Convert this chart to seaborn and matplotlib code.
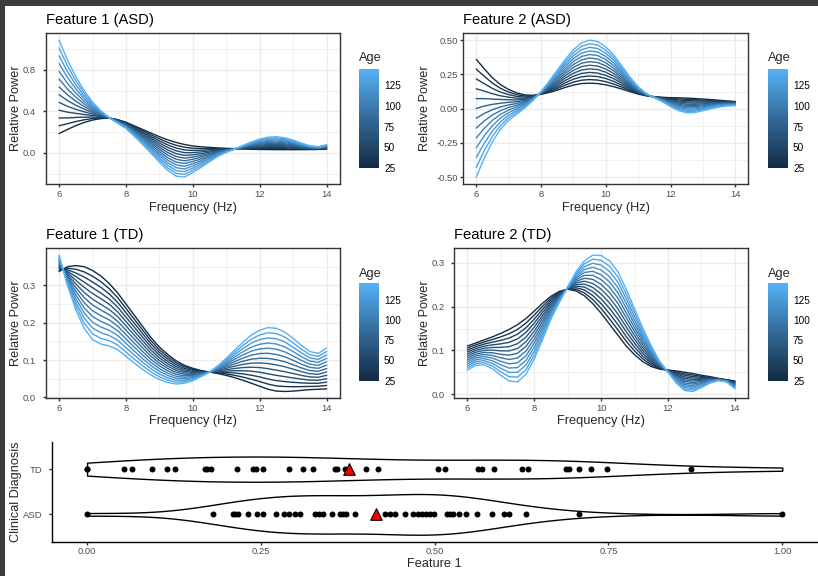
import numpy as np
import pandas as pd
import matplotlib
matplotlib.use("Agg")
import matplotlib.pyplot as plt
import seaborn as sns
from matplotlib.colors import LinearSegmentedColormap, Normalize
from matplotlib.cm import ScalarMappable
from matplotlib.ticker import MultipleLocator, FuncFormatter
from matplotlib.patches import Rectangle

# ---------------- data ----------------
frequency_hz = [6.0, 6.25, 6.5, 6.75, 7.0, 7.25, 7.5, 7.75, 8.0, 8.25, 8.5, 8.75,
                9.0, 9.25, 9.5, 9.75, 10.0, 10.25, 10.5, 10.75, 11.0, 11.25, 11.5,
                11.75, 12.0, 12.25, 12.5, 12.75, 13.0, 13.25, 13.5, 13.75, 14.0]
age_months = [25, 35, 45, 55, 65, 75, 85, 95, 105, 115, 125, 135, 145]

# model curves at the youngest and oldest age (relative power is linear in age)
f1_asd_youngest = [0.186, 0.225, 0.262, 0.293, 0.316, 0.330, 0.335, 0.320, 0.295, 0.260, 0.225,
                   0.190, 0.155, 0.125, 0.100, 0.080, 0.066, 0.058, 0.052, 0.047, 0.043, 0.040,
                   0.037, 0.034, 0.032, 0.031, 0.030, 0.030, 0.030, 0.030, 0.031, 0.032, 0.034]
f1_asd_oldest = [1.087, 0.895, 0.735, 0.600, 0.490, 0.405, 0.340, 0.285, 0.235, 0.160, 0.080,
                 -0.005, -0.090, -0.170, -0.225, -0.235, -0.190, -0.140, -0.085, -0.035, 0.005,
                 0.035, 0.070, 0.105, 0.132, 0.150, 0.155, 0.145, 0.122, 0.093, 0.068, 0.058, 0.078]

f2_asd_youngest = [0.360, 0.290, 0.225, 0.175, 0.140, 0.115, 0.100, 0.097, 0.105, 0.118, 0.135,
                   0.155, 0.172, 0.183, 0.186, 0.183, 0.174, 0.160, 0.143, 0.124, 0.106, 0.094,
                   0.087, 0.083, 0.080, 0.079, 0.077, 0.074, 0.070, 0.066, 0.061, 0.056, 0.052]
f2_asd_oldest = [-0.500, -0.360, -0.240, -0.150, -0.085, -0.040, 0.005, 0.060, 0.125, 0.200,
                 0.280, 0.360, 0.430, 0.480, 0.500, 0.490, 0.450, 0.390, 0.310, 0.230, 0.160,
                 0.110, 0.080, 0.050, 0.015, -0.015, -0.030, -0.028, -0.015, 0.000, 0.012, 0.020, 0.022]

f1_td_youngest = [0.337, 0.350, 0.353, 0.350, 0.340, 0.325, 0.305, 0.280, 0.250, 0.220, 0.190,
                  0.160, 0.135, 0.115, 0.098, 0.086, 0.078, 0.072, 0.068, 0.064, 0.059, 0.053,
                  0.046, 0.038, 0.030, 0.022, 0.017, 0.016, 0.017, 0.019, 0.021, 0.022, 0.023]
f1_td_oldest = [0.381, 0.300, 0.235, 0.185, 0.155, 0.143, 0.138, 0.128, 0.110, 0.092, 0.075,
                0.060, 0.048, 0.040, 0.036, 0.038, 0.045, 0.056, 0.068, 0.085, 0.105, 0.127,
                0.148, 0.167, 0.180, 0.187, 0.185, 0.175, 0.158, 0.139, 0.123, 0.118, 0.132]

f2_td_youngest = [0.110, 0.117, 0.124, 0.131, 0.139, 0.148, 0.159, 0.173, 0.190, 0.208, 0.224,
                  0.235, 0.240, 0.236, 0.225, 0.207, 0.185, 0.160, 0.135, 0.110, 0.090, 0.074,
                  0.063, 0.057, 0.055, 0.053, 0.050, 0.047, 0.043, 0.040, 0.036, 0.033, 0.030]
f2_td_oldest = [0.055, 0.066, 0.067, 0.058, 0.043, 0.030, 0.028, 0.045, 0.080, 0.125, 0.172,
                0.210, 0.245, 0.280, 0.305, 0.318, 0.317, 0.305, 0.280, 0.240, 0.195, 0.150,
                0.110, 0.075, 0.050, 0.025, 0.008, 0.006, 0.015, 0.025, 0.031, 0.028, 0.012]

# Feature 1 per subject
td_feature1 = [0.0, 0.0, 0.053, 0.065, 0.094, 0.115, 0.126, 0.169, 0.173, 0.178, 0.216, 0.238,
               0.243, 0.253, 0.291, 0.311, 0.325, 0.356, 0.359, 0.371, 0.401, 0.418, 0.505,
               0.515, 0.563, 0.568, 0.586, 0.626, 0.635, 0.689, 0.693, 0.707, 0.725, 0.748, 0.869]
asd_feature1 = [0.0, 0.181, 0.210, 0.213, 0.217, 0.231, 0.245, 0.253, 0.272, 0.284, 0.291,
                0.299, 0.306, 0.328, 0.334, 0.340, 0.352, 0.364, 0.368, 0.373, 0.385, 0.429,
                0.436, 0.443, 0.457, 0.469, 0.476, 0.482, 0.488, 0.494, 0.499, 0.518, 0.522,
                0.527, 0.535, 0.545, 0.561, 0.583, 0.600, 0.607, 0.632, 0.708, 1.0]
td_violin_extent = [1.0]   # TD violin outline reaches 1.00
diagnosis_order = ["TD", "ASD"]
colorbar_ticks = [25, 50, 75, 100, 125]

# ---------------- style ----------------
sns.set_theme(style="white")
plt.rcParams["font.family"] = ["Liberation Sans", "DejaVu Sans"]
plt.rcParams["axes.unicode_minus"] = False

W, H = 818, 576
fig = plt.figure(figsize=(W / 100, H / 100), dpi=100)
fig.patch.set_facecolor("#3c3c3c")
fig.add_artist(Rectangle((5 / W, 0), 1, 1 - 6 / H, transform=fig.transFigure,
                         facecolor="white", edgecolor="none", zorder=-10))


def rect(l, t, r, b):
    return [l / W, 1 - b / H, (r - l) / W, (b - t) / H]


cmap = LinearSegmentedColormap.from_list("gg", ["#132B43", "#336A98", "#56B1F7"])
norm = Normalize(min(age_months), max(age_months))

TICK_PT = 6.8
LEG_PT = 7.2
LAB_PT = 9.2
TITLE_PT = 10.6


def age_curves(youngest, oldest):
    a0, a1 = age_months[0], age_months[-1]
    rows = []
    for a in age_months:
        w = (a - a0) / (a1 - a0)
        for f, y0, y1 in zip(frequency_hz, youngest, oldest):
            rows.append({"Frequency": f, "Power": (1 - w) * y0 + w * y1, "Age": a})
    return pd.DataFrame(rows)


def fmt(decimals):
    def f(v, p):
        if abs(v) < 1e-9:
            v = 0.0
        return f"{v:.{decimals}f}"
    return FuncFormatter(f)


def curve_panel(box, title, youngest, oldest, major, decimals, ylab_x, xlab_y, ypad,
                cbar_box, age_baseline):
    ax = fig.add_axes(rect(*box))
    df = age_curves(youngest, oldest)
    sns.lineplot(data=df, x="Frequency", y="Power", hue="Age", palette=cmap,
                 hue_norm=norm, estimator=None, errorbar=None, legend=False,
                 linewidth=1.0, sort=False, ax=ax)
    ax.set_facecolor("white")
    ax.margins(x=0.05, y=0.05)
    ax.autoscale_view()
    ax.xaxis.set_major_locator(MultipleLocator(2))
    ax.xaxis.set_minor_locator(MultipleLocator(1))
    ax.yaxis.set_major_locator(MultipleLocator(major))
    ax.yaxis.set_minor_locator(MultipleLocator(major / 2))
    ax.xaxis.set_major_formatter(fmt(0))
    ax.yaxis.set_major_formatter(fmt(decimals))
    ax.grid(True, which="major", color="#EBEBEB", linewidth=1.0)
    ax.grid(True, which="minor", color="#EBEBEB", linewidth=0.5)
    ax.set_axisbelow(True)
    for s in ax.spines.values():
        s.set_visible(True)
        s.set_color("#333333")
        s.set_linewidth(1.0)
    ax.tick_params(which="major", length=2, width=1.0, color="#333333",
                   labelsize=TICK_PT, labelcolor="#4D4D4D", bottom=True, left=True)
    ax.tick_params(axis="x", which="major", pad=2.2)
    ax.tick_params(axis="y", which="major", pad=ypad)
    ax.tick_params(which="minor", length=0)
    ax.set_title(title, loc="left", fontsize=TITLE_PT, pad=6.7, color="black")
    ax.set_xlabel("Frequency (Hz)", fontsize=LAB_PT, va="center")
    ax.set_ylabel("Relative Power", fontsize=LAB_PT, va="center")
    ax.xaxis.set_label_coords(0.5, xlab_y)
    ax.yaxis.set_label_coords(ylab_x, 0.5)

    cax = fig.add_axes(rect(*cbar_box))
    cb = fig.colorbar(ScalarMappable(norm=norm, cmap=cmap), cax=cax)
    cb.outline.set_visible(False)
    cb.set_ticks(colorbar_ticks)
    cax.tick_params(axis="y", direction="in", length=2.9, width=0.8, color="white",
                    left=True, right=True, labelleft=False, labelright=True,
                    labelsize=LEG_PT, labelcolor="black", pad=3.6)
    fig.text(cbar_box[0] / W, 1 - age_baseline / H, "Age", fontsize=LAB_PT,
             ha="left", va="baseline")
    return ax


curve_panel((45.7, 33.3, 340, 184), "Feature 1 (ASD)", f1_asd_youngest, f1_asd_oldest,
            0.4, 1, -0.100, -0.159, 5.0, (359, 69, 379, 167.7), 61)
curve_panel((463.3, 33.3, 748.3, 184), "Feature 2 (ASD)", f2_asd_youngest, f2_asd_oldest,
            0.25, 2, -0.134, -0.159, 2.0, (768, 69, 788, 167.7), 61)
curve_panel((45.7, 248.3, 340, 398.3), "Feature 1 (TD)", f1_td_youngest, f1_td_oldest,
            0.1, 1, -0.100, -0.151, 5.0, (359, 283.3, 379, 380.7), 276.7)
curve_panel((454, 248.3, 748.3, 398.3), "Feature 2 (TD)", f2_td_youngest, f2_td_oldest,
            0.1, 1, -0.098, -0.151, 4.5, (768, 283.3, 788, 380.7), 276.7)

# ---------------- bottom violin panel ----------------
points = pd.DataFrame({
    "Diagnosis": ["TD"] * len(td_feature1) + ["ASD"] * len(asd_feature1),
    "Feature 1": td_feature1 + asd_feature1,
})
violin_df = pd.concat([points, pd.DataFrame({"Diagnosis": ["TD"] * len(td_violin_extent),
                                             "Feature 1": td_violin_extent})],
                      ignore_index=True)
means = points.groupby("Diagnosis", sort=False)["Feature 1"].mean().reset_index()


def nrd0(kde):
    x = np.asarray(kde.dataset).ravel()
    sd = x.std(ddof=1)
    q75, q25 = np.percentile(x, [75, 25])
    lo = min(sd, (q75 - q25) / 1.34)
    return 0.9 * lo * len(x) ** (-0.2) / sd


ax5 = fig.add_axes(rect(52.3, 442, 817, 541.5))
sns.violinplot(data=violin_df, x="Feature 1", y="Diagnosis", order=diagnosis_order,
               orient="y", cut=0, density_norm="area", inner=None, color="white",
               saturation=1, linecolor="black", linewidth=1.0, width=0.9,
               bw_method=nrd0, ax=ax5)
sns.stripplot(data=points, x="Feature 1", y="Diagnosis", order=diagnosis_order,
              orient="y", jitter=False, color="black", size=4.3, linewidth=0, ax=ax5)
sns.stripplot(data=means, x="Feature 1", y="Diagnosis", order=diagnosis_order,
              orient="y", jitter=False, color="red", marker="^", size=8.3,
              edgecolor="black", linewidth=0.8, ax=ax5)
ax5.set_xlim(-0.05, 1.05)
ax5.set_ylim(1.6, -0.6)
ax5.set_xticks([0, 0.25, 0.5, 0.75, 1.0])
ax5.xaxis.set_major_formatter(fmt(2))
ax5.grid(False)
for side in ["top", "right"]:
    ax5.spines[side].set_visible(False)
for side in ["left", "bottom"]:
    ax5.spines[side].set_visible(True)
    ax5.spines[side].set_color("black")
    ax5.spines[side].set_linewidth(1.0)
ax5.tick_params(length=2, width=1.0, color="#333333", labelsize=TICK_PT,
                labelcolor="#4D4D4D", bottom=True, left=True)
ax5.tick_params(axis="x", pad=2.2)
ax5.tick_params(axis="y", pad=5.0)
ax5.set_xlabel("Feature 1", fontsize=LAB_PT, va="center")
ax5.set_ylabel("Clinical Diagnosis", fontsize=LAB_PT, va="center")
ax5.xaxis.set_label_coords(0.5, -0.226)
ax5.yaxis.set_label_coords(-0.047, 0.5)

fig.savefig("out.png", dpi=100, facecolor=fig.get_facecolor())
